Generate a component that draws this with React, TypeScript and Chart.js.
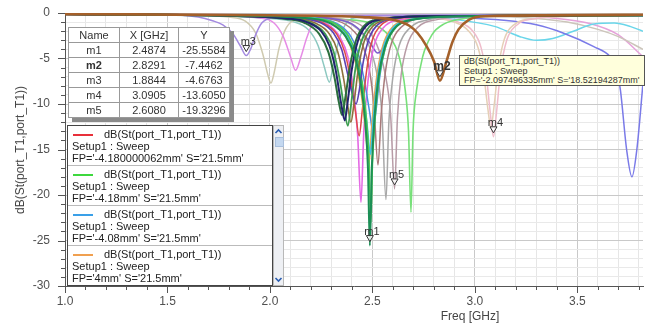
import React, { useEffect, useRef } from 'react';
import { Chart, registerables } from 'chart.js';
Chart.register(...registerables);

const FONT = 'Arial, "Liberation Sans", sans-serif';

// ---- curve data: [freq GHz, dB] ----
const lilacM3 = [[1.0,-0.12],[1.5,-0.2],[1.65,-0.45],[1.72,-0.85],[1.77,-1.3],[1.82,-2.3],[1.855,-3.6],[1.8844,-4.68],[1.905,-4.0],[1.93,-2.4],[1.96,-1.1],[2.02,-0.5],[2.2,-0.3],[3.0,-0.22],[3.82,-0.2]];
const beigeDip = [[1.0,-0.1],[1.6,-0.25],[1.8,-0.45],[1.88,-0.9],[1.93,-2.2],[1.965,-4.5],[1.99,-6.8],[2.005,-7.7],[2.02,-6.6],[2.045,-3.8],[2.08,-1.6],[2.13,-0.7],[2.3,-0.35],[3.82,-0.2]];
const pinkDip = [[1.0,-0.1],[1.7,-0.25],[1.95,-0.55],[2.02,-1.1],[2.065,-2.6],[2.1,-4.8],[2.125,-6.3],[2.15,-4.9],[2.18,-2.7],[2.21,-1.1],[2.27,-0.5],[2.5,-0.3],[3.82,-0.2]];
const tealDip = [[1.0,-0.1],[1.7,-0.3],[1.95,-0.55],[2.12,-1.0],[2.19,-1.9],[2.235,-3.6],[2.265,-5.9],[2.29,-7.6],[2.31,-5.6],[2.335,-3.1],[2.37,-1.2],[2.43,-0.5],[2.7,-0.3],[3.82,-0.2]];
const darkGreenC = [[1.0,-0.15],[1.8,-0.3],[2.08,-0.65],[2.17,-1.1],[2.24,-2.3],[2.285,-4.3],[2.315,-7.1],[2.337,-9.9],[2.352,-11.2],[2.367,-9.4],[2.39,-5.9],[2.42,-3.0],[2.46,-1.4],[2.53,-0.7],[2.8,-0.35],[3.82,-0.25]];
const navyC = [[1.0,-0.15],[1.8,-0.3],[2.08,-0.6],[2.18,-1.0],[2.25,-2.0],[2.29,-3.6],[2.32,-6.2],[2.347,-9.9],[2.365,-11.8],[2.38,-9.6],[2.4,-6.1],[2.43,-3.0],[2.47,-1.4],[2.54,-0.7],[2.8,-0.35],[3.82,-0.25]];
const greenC = [[1.0,-0.12],[1.8,-0.28],[2.1,-0.6],[2.2,-1.1],[2.27,-2.3],[2.31,-4.2],[2.34,-7.3],[2.362,-10.4],[2.38,-12.4],[2.395,-10.2],[2.415,-6.4],[2.445,-3.2],[2.485,-1.5],[2.55,-0.7],[2.8,-0.35],[3.82,-0.25]];
const oliveC = [[1.0,-0.12],[1.8,-0.28],[2.12,-0.6],[2.22,-1.1],[2.29,-2.3],[2.33,-4.2],[2.36,-7.3],[2.38,-10.3],[2.395,-12.0],[2.41,-9.9],[2.43,-6.3],[2.46,-3.1],[2.5,-1.5],[2.57,-0.7],[2.8,-0.35],[3.82,-0.25]];
const violetC = [[1.0,-0.12],[1.8,-0.28],[2.14,-0.6],[2.25,-1.1],[2.31,-2.2],[2.35,-4.0],[2.38,-6.8],[2.403,-9.0],[2.42,-10.0],[2.435,-8.6],[2.455,-5.4],[2.485,-2.7],[2.525,-1.3],[2.6,-0.6],[2.85,-0.3],[3.82,-0.25]];
const redC = [[1.0,-0.12],[1.8,-0.26],[2.15,-0.55],[2.26,-1.1],[2.325,-2.3],[2.365,-4.3],[2.395,-7.5],[2.418,-11.0],[2.435,-13.5],[2.45,-10.8],[2.47,-6.6],[2.495,-3.3],[2.535,-1.5],[2.6,-0.7],[2.85,-0.35],[3.82,-0.25]];
const magentaC = [[1.0,-0.1],[1.8,-0.25],[2.17,-0.55],[2.28,-1.2],[2.34,-2.6],[2.38,-4.8],[2.408,-8.5],[2.428,-13.5],[2.444,-20.8],[2.458,-13.0],[2.478,-7.5],[2.508,-3.6],[2.55,-1.7],[2.62,-0.8],[2.9,-0.35],[3.82,-0.25]];
const orangeC = [[1.0,-0.1],[1.8,-0.25],[2.2,-0.55],[2.31,-1.2],[2.37,-2.6],[2.41,-4.8],[2.44,-8.0],[2.465,-12.5],[2.483,-16.5],[2.498,-12.0],[2.518,-7.5],[2.548,-3.8],[2.588,-1.8],[2.66,-0.8],[2.9,-0.35],[3.82,-0.25]];
const cyanC = [[1.0,-0.1],[1.8,-0.25],[2.2,-0.55],[2.32,-1.2],[2.38,-2.6],[2.42,-4.8],[2.45,-8.0],[2.472,-12.0],[2.49,-15.5],[2.505,-11.5],[2.525,-7.2],[2.555,-3.7],[2.595,-1.8],[2.67,-0.8],[2.9,-0.35],[3.82,-0.25]];
const m1C = [[1.0,-0.12],[1.8,-0.28],[2.2,-0.6],[2.3,-1.2],[2.37,-2.6],[2.415,-4.8],[2.445,-8.0],[2.465,-12.0],[2.478,-17.0],[2.4874,-25.56],[2.497,-17.0],[2.51,-11.5],[2.53,-7.0],[2.56,-3.8],[2.6,-1.9],[2.68,-0.8],[2.95,-0.35],[3.82,-0.25]];
const limeC = [[1.0,-0.1],[1.8,-0.25],[2.22,-0.6],[2.32,-1.2],[2.385,-2.6],[2.425,-4.8],[2.453,-8.0],[2.472,-12.0],[2.484,-16.5],[2.492,-23.0],[2.5,-16.5],[2.513,-11.5],[2.533,-7.0],[2.563,-3.8],[2.603,-1.9],[2.68,-0.8],[2.95,-0.35],[3.82,-0.25]];
const blueC = [[1.0,-0.1],[1.8,-0.25],[2.22,-0.55],[2.33,-1.2],[2.395,-2.6],[2.435,-4.8],[2.465,-8.0],[2.487,-11.0],[2.502,-13.0],[2.517,-10.8],[2.537,-6.8],[2.567,-3.5],[2.607,-1.7],[2.68,-0.8],[2.95,-0.35],[3.82,-0.25]];
const purpleSmallC = [[1.0,-0.1],[2.0,-0.3],[2.3,-0.6],[2.4,-1.2],[2.46,-2.4],[2.5,-3.7],[2.525,-4.4],[2.55,-3.9],[2.58,-2.4],[2.63,-1.1],[2.72,-0.5],[3.0,-0.3],[3.82,-0.25]];
const rosyC = [[1.0,-0.1],[2.0,-0.3],[2.3,-0.7],[2.39,-1.6],[2.45,-3.4],[2.485,-6.2],[2.508,-10.5],[2.527,-16.7],[2.543,-11.0],[2.563,-6.5],[2.593,-3.3],[2.643,-1.5],[2.73,-0.6],[3.0,-0.3],[3.82,-0.25]];
const grayC = [[1.0,-0.1],[2.0,-0.3],[2.32,-0.7],[2.42,-1.6],[2.48,-3.4],[2.52,-6.5],[2.546,-11.0],[2.566,-20.5],[2.58,-12.0],[2.6,-7.0],[2.63,-3.6],[2.68,-1.7],[2.78,-0.7],[3.0,-0.35],[3.82,-0.25]];
const mauveM5C = [[1.0,-0.1],[2.0,-0.3],[2.36,-0.7],[2.46,-1.6],[2.52,-3.4],[2.56,-6.5],[2.588,-11.0],[2.608,-19.33],[2.622,-11.5],[2.64,-6.8],[2.67,-3.5],[2.72,-1.6],[2.82,-0.7],[3.0,-0.35],[3.82,-0.25]];
const lightGreenC = [[1.0,-0.1],[2.0,-0.3],[2.35,-0.7],[2.5,-1.2],[2.58,-2.5],[2.63,-4.8],[2.66,-8.5],[2.676,-13.0],[2.688,-21.9],[2.698,-13.0],[2.715,-8.5],[2.745,-4.8],[2.79,-2.4],[2.85,-1.2],[2.95,-0.6],[3.2,-0.3],[3.82,-0.25]];
const brownM2 = [[1.0,-0.12],[2.0,-0.25],[2.45,-0.45],[2.6,-0.75],[2.68,-1.4],[2.72,-2.2],[2.76,-3.5],[2.8,-5.3],[2.8291,-7.45],[2.86,-5.4],[2.89,-3.2],[2.92,-1.8],[2.97,-0.75],[3.05,-0.35],[3.82,-0.2]];
const paleRoseM4 = [[1.0,-0.1],[2.5,-0.25],[2.8,-0.5],[2.92,-1.0],[2.99,-2.0],[3.03,-3.8],[3.055,-6.8],[3.075,-11.0],[3.0905,-13.6],[3.105,-11.0],[3.125,-6.4],[3.155,-3.0],[3.2,-1.4],[3.3,-0.6],[3.5,-0.35],[3.82,-0.3]];
const paleBeigeC = [[1.0,-0.1],[2.5,-0.25],[2.78,-0.5],[2.9,-1.0],[2.97,-2.0],[3.015,-3.8],[3.043,-6.8],[3.063,-10.5],[3.078,-12.6],[3.093,-10.3],[3.113,-6.2],[3.143,-2.9],[3.19,-1.3],[3.3,-0.6],[3.5,-0.35],[3.82,-0.3]];
const blueVioletC = [[1.0,-0.1],[2.5,-0.3],[2.9,-0.5],[3.14,-0.8],[3.3,-1.3],[3.43,-2.2],[3.58,-3.7],[3.66,-4.8],[3.69,-6.0],[3.71,-8.5],[3.74,-15.0],[3.766,-18.0],[3.79,-15.0],[3.82,-7.7]];
const cyanBroadC = [[1.0,-0.1],[2.6,-0.3],[2.9,-0.7],[3.1,-1.5],[3.22,-2.6],[3.3,-3.0],[3.38,-2.8],[3.48,-2.0],[3.58,-1.2],[3.68,-1.1],[3.76,-1.5],[3.82,-2.0]];
const paleGrayBroadC = [[1.0,-0.1],[3.0,-0.3],[3.3,-0.6],[3.45,-1.0],[3.6,-1.8],[3.7,-2.6],[3.82,-4.0]];
const pinkBroadC = [[1.0,-0.1],[3.2,-0.3],[3.4,-0.6],[3.55,-1.1],[3.7,-2.4],[3.82,-4.8]];

// ---- markers ----
const markerNames = ['m1', 'm2', 'm3', 'm4', 'm5'];
const markerX = [2.4874, 2.8291, 1.8844, 3.0905, 2.6080];
const markerY = [-25.5584, -7.4462, -4.6763, -13.6050, -19.3296];

// ---- legend ----
const legendColors = ['#e8303a', '#3ed83e', '#3aa0e8', '#f0a050'];
const legendFP = ["FP='-4.180000062mm' S='21.5mm'", "FP='-4.18mm' S='21.5mm'", "FP='-4.08mm' S='21.5mm'", "FP='4mm' S='21.5mm'"];
const traceName = 'dB(St(port_T1,port_T1))';
const tipLines = ['dB(St(port_T1,port_T1))', 'Setup1 : Sweep', "FP='-2.097496335mm' S='18.52194287mm'"];

// series styling (first = drawn on top)
const series = [
  { pts: brownM2, color: '#a4602a', width: 2.6 },
  { pts: m1C, color: '#1c8f56', width: 2 },
  { pts: navyC, color: '#22246c', width: 2 },
  { pts: darkGreenC, color: '#2b6f3d', width: 2 },
  { pts: greenC, color: '#3e9e51', width: 1.8 },
  { pts: oliveC, color: '#8e703d', width: 1.6 },
  { pts: violetC, color: '#5c40b3', width: 1.6 },
  { pts: limeC, color: '#4ccc4e', width: 1.6 },
  { pts: cyanC, color: '#3ec4e6', width: 1.8 },
  { pts: orangeC, color: '#f0a44a', width: 1.6 },
  { pts: redC, color: '#e04848', width: 1.5 },
  { pts: blueC, color: '#4a8ee0', width: 1.5 },
  { pts: magentaC, color: '#e46ae4', width: 1.6 },
  { pts: purpleSmallC, color: '#7b5ccc', width: 1.5 },
  { pts: rosyC, color: '#a87a7a', width: 1.5 },
  { pts: grayC, color: '#a8a8a8', width: 1.5 },
  { pts: mauveM5C, color: '#b89ba6', width: 1.5 },
  { pts: lightGreenC, color: '#78e07a', width: 1.6 },
  { pts: lilacM3, color: '#a38ae0', width: 1.5 },
  { pts: pinkDip, color: '#e68ce6', width: 1.5 },
  { pts: beigeDip, color: '#cfcab0', width: 1.5 },
  { pts: tealDip, color: '#8cc8c0', width: 1.5 },
  { pts: paleRoseM4, color: '#efbccb', width: 1.5 },
  { pts: paleBeigeC, color: '#e5cfb6', width: 1.5 },
  { pts: blueVioletC, color: '#7a7ae8', width: 1.5 },
  { pts: cyanBroadC, color: '#6ad6ea', width: 1.5 },
  { pts: paleGrayBroadC, color: '#ccc5ba', width: 1.5 },
  { pts: pinkBroadC, color: '#e6a2da', width: 1.5 },
];

const isHalf = (v: number) => Math.abs(v * 2 - Math.round(v * 2)) < 1e-6;
const isFive = (v: number) => Math.abs(v / 5 - Math.round(v / 5)) < 1e-6;

const hfssPlugin = {
  id: 'hfss',
  afterDatasetsDraw(chart: any) {
    const { ctx, scales } = chart;
    const xs = scales.x, ys = scales.y;
    ctx.save();
    markerNames.forEach((n, i) => {
      const px = xs.getPixelForValue(markerX[i]);
      const py = ys.getPixelForValue(markerY[i]);
      ctx.beginPath();
      ctx.moveTo(px - 3.5, py - 10);
      ctx.lineTo(px + 3.5, py - 10);
      ctx.lineTo(px, py - 4);
      ctx.closePath();
      ctx.fillStyle = 'rgba(255,255,255,0.85)';
      ctx.fill();
      ctx.strokeStyle = '#333';
      ctx.lineWidth = 1;
      ctx.stroke();
      ctx.font = (n === 'm2' ? 'bold 12px ' : '11px ') + FONT;
      ctx.fillStyle = '#333';
      ctx.textAlign = 'center';
      ctx.textBaseline = 'alphabetic';
      ctx.fillText(n, px + 2, py - 11);
    });
    ctx.restore();
  },
  afterDraw(chart: any) {
    const { ctx, chartArea, scales } = chart;
    const xs = scales.x, ys = scales.y;
    ctx.save();
    ctx.strokeStyle = '#555';
    ctx.lineWidth = 1;
    ctx.beginPath();
    ys.ticks.forEach((t: any) => {
      const y = Math.round(ys.getPixelForValue(t.value)) + 0.5;
      const len = isFive(t.value) ? 7 : 4;
      ctx.moveTo(chartArea.left - len, y);
      ctx.lineTo(chartArea.left, y);
    });
    xs.ticks.forEach((t: any) => {
      const x = Math.round(xs.getPixelForValue(t.value)) + 0.5;
      const len = isHalf(t.value) ? 7 : 4;
      ctx.moveTo(x, chartArea.bottom);
      ctx.lineTo(x, chartArea.bottom + len);
    });
    ctx.stroke();
    ctx.restore();
  },
};

export default function App() {
  const ref = useRef<HTMLCanvasElement>(null);
  useEffect(() => {
    const chart = new Chart(ref.current as HTMLCanvasElement, {
      type: 'line',
      data: {
        datasets: series.map((s) => ({
          data: s.pts.map(([x, y]) => ({ x, y })),
          borderColor: s.color,
          borderWidth: s.width,
          pointRadius: 0,
          fill: false,
          cubicInterpolationMode: 'monotone',
          borderJoinStyle: 'round',
        })),
      },
      options: {
        animation: false,
        responsive: false,
        events: [],
        layout: { padding: { top: 13, right: 7, left: 0, bottom: 0 } },
        plugins: { legend: { display: false }, tooltip: { enabled: false } },
        scales: {
          x: {
            type: 'linear',
            min: 1,
            max: 3.82,
            afterFit: (s: any) => { s.height = 43; s.paddingLeft = 0; s.paddingRight = 0; },
            border: { display: true, color: '#555', width: 1 },
            grid: {
              drawTicks: false,
              lineWidth: 1,
              color: (c: any) => (c.tick && isHalf(c.tick.value) ? '#c9c9c9' : '#e6e6e6'),
            },
            ticks: {
              stepSize: 0.1,
              includeBounds: false,
              autoSkip: false,
              maxRotation: 0,
              padding: 8,
              color: '#505050',
              font: { family: FONT, size: 12 },
              callback: (v: any) => (isHalf(Number(v)) ? Number(v).toFixed(1) : ''),
            },
          },
          y: {
            type: 'linear',
            min: -30,
            max: 0,
            afterFit: (s: any) => { s.width = 65; s.paddingTop = 0; s.paddingBottom = 0; },
            border: { display: true, color: '#555', width: 1 },
            grid: {
              drawTicks: false,
              lineWidth: 1,
              color: (c: any) => (c.tick && isFive(c.tick.value) ? '#c9c9c9' : '#e9e9e9'),
            },
            ticks: {
              stepSize: 1,
              autoSkip: false,
              padding: 15,
              color: '#505050',
              font: { family: FONT, size: 12 },
              callback: (v: any) => (isFive(Number(v)) ? String(Math.round(Number(v))) : ''),
            },
          },
        },
      } as any,
      plugins: [hfssPlugin],
    } as any);
    return () => chart.destroy();
  }, []);

  const cell: React.CSSProperties = {
    border: '1px solid #999',
    height: 14,
    padding: 0,
    textAlign: 'center',
    lineHeight: '14px',
    whiteSpace: 'nowrap',
  };
  const colW = [50, 58, 50];

  return (
    <div style={{ position: 'absolute', left: 0, top: 0, width: 650, height: 329, background: '#fff', overflow: 'hidden' }}>
      <canvas ref={ref} width={650} height={329} style={{ position: 'absolute', left: 0, top: 0, width: 650, height: 329 }} />

      <div style={{ position: 'absolute', left: 20, top: 150, transform: 'translate(-50%,-50%) rotate(-90deg)', whiteSpace: 'nowrap', font: `12px ${FONT}`, color: '#444' }}>
        {traceName}
      </div>
      <div style={{ position: 'absolute', left: 470, top: 316, transform: 'translate(-50%,-50%)', whiteSpace: 'nowrap', font: `12px ${FONT}`, color: '#444' }}>
        Freq [GHz]
      </div>

      <table style={{ position: 'absolute', left: 68, top: 27, borderCollapse: 'collapse', background: '#fff', font: `11px ${FONT}`, color: '#333', boxShadow: '4px 4px 0 #8a8a8a', border: '1px solid #444' }}>
        <tbody>
          <tr>
            {['Name', 'X [GHz]', 'Y'].map((h, i) => (
              <td key={h} style={{ ...cell, width: colW[i] }}>{h}</td>
            ))}
          </tr>
          {markerNames.map((n, i) => (
            <tr key={n}>
              <td style={{ ...cell, fontWeight: n === 'm2' ? 'bold' : 'normal' }}>{n}</td>
              <td style={cell}>{markerX[i].toFixed(4)}</td>
              <td style={cell}>{markerY[i].toFixed(4)}</td>
            </tr>
          ))}
        </tbody>
      </table>

      <div style={{ position: 'absolute', left: 67, top: 125, width: 206, height: 161, boxSizing: 'border-box', border: '1px solid #444', background: '#fff', overflow: 'hidden' }}>
        {legendColors.map((c, i) => (
          <div key={i} style={{ height: 37, borderBottom: '1px solid #bbb', padding: '2px 0 0 4px', font: `11px ${FONT}`, lineHeight: '12px', color: '#222', whiteSpace: 'nowrap', overflow: 'hidden' }}>
            <div>
              <span style={{ display: 'inline-block', width: 20, height: 2, background: c, verticalAlign: 'middle', margin: '0 11px 0 1px' }} />
              {traceName}
            </div>
            <div>Setup1 : Sweep</div>
            <div>{legendFP[i]}</div>
          </div>
        ))}
      </div>
      <div style={{ position: 'absolute', left: 273, top: 125, width: 11, height: 161, boxSizing: 'border-box', background: '#eef0f4', border: '1px solid #b8b8b8' }}>
        <svg width="9" height="9" style={{ position: 'absolute', left: 0, top: 1 }}>
          <polyline points="1.5,6 4.5,3 7.5,6" fill="none" stroke="#2a5db0" strokeWidth="1.6" />
        </svg>
        <div style={{ position: 'absolute', left: 1, top: 11, width: 7, height: 8, background: '#c4d8f0', border: '1px solid #a9bfdc' }} />
        <svg width="9" height="9" style={{ position: 'absolute', left: 0, bottom: 1 }}>
          <polyline points="1.5,3 4.5,6 7.5,3" fill="none" stroke="#2a5db0" strokeWidth="1.6" />
        </svg>
      </div>

      <div style={{ position: 'absolute', left: 459, top: 55, width: 186, height: 31, boxSizing: 'border-box', background: '#ffffdc', border: '1px solid #555', padding: '1px 0 0 4px', font: `9px ${FONT}`, lineHeight: '9.5px', color: '#333', whiteSpace: 'nowrap', overflow: 'hidden' }}>
        {tipLines.map((t, i) => (
          <div key={i}>{t}</div>
        ))}
      </div>
    </div>
  );
}
